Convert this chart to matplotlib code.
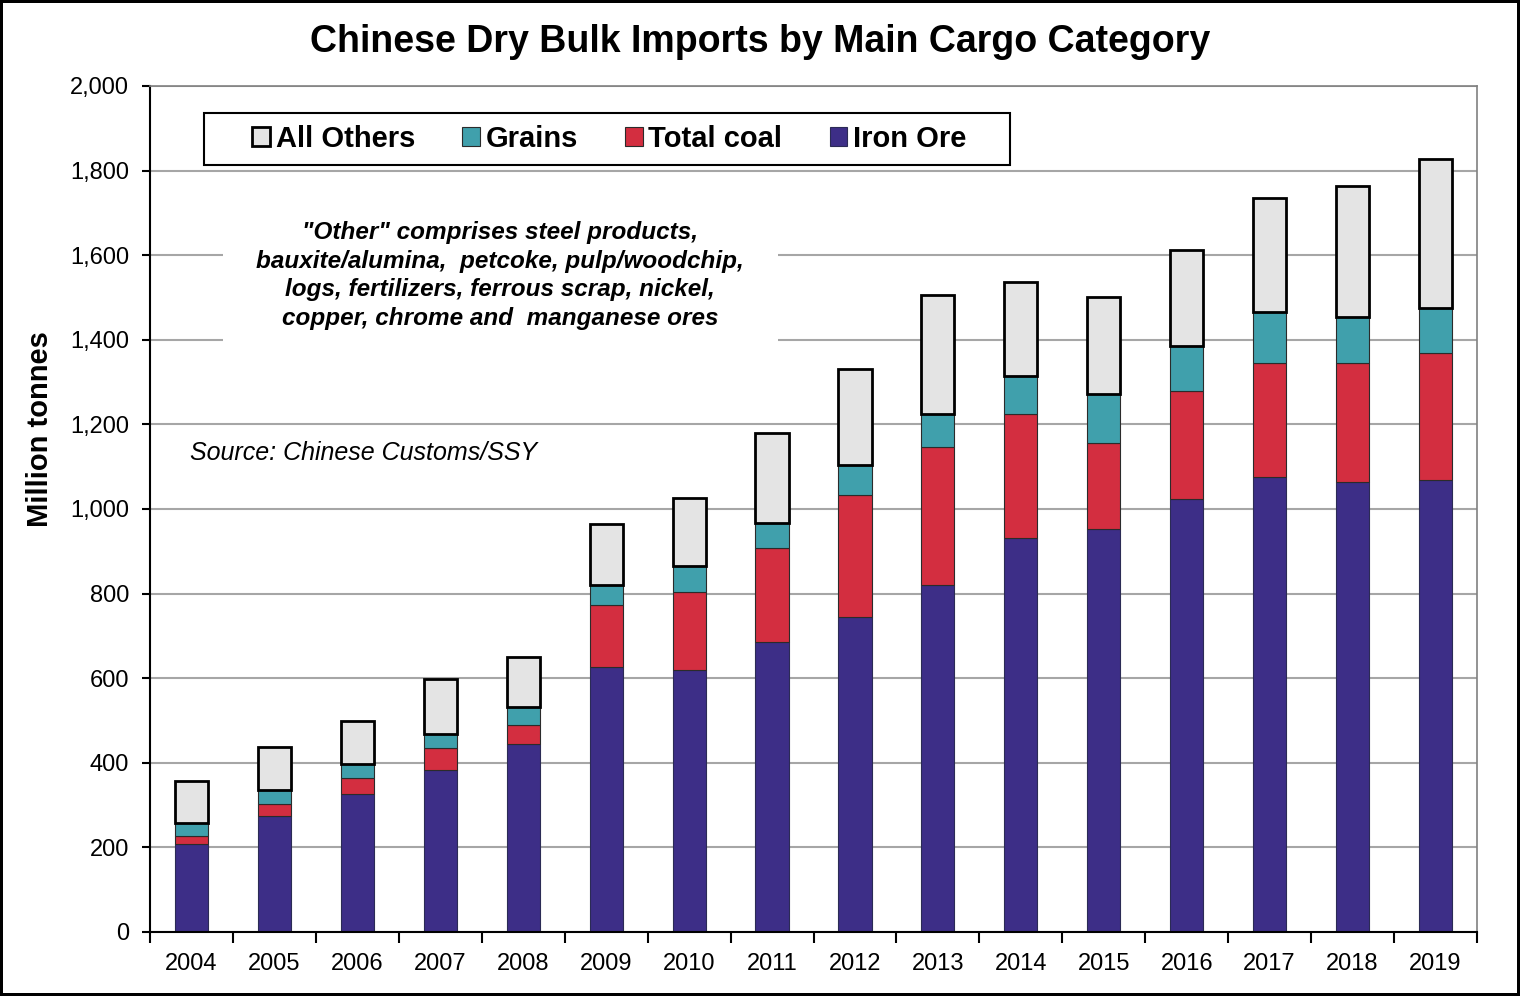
import matplotlib
matplotlib.use("Agg")
from matplotlib import pyplot as plt
from matplotlib.patches import Rectangle
import numpy as np

years = ["2004", "2005", "2006", "2007", "2008", "2009", "2010", "2011",
         "2012", "2013", "2014", "2015", "2016", "2017", "2018", "2019"]
iron_ore = [208, 274, 326, 383, 444, 626, 619, 686, 745, 820, 931, 953, 1024, 1076, 1064, 1069]
total_coal = [19, 29, 38, 52, 45, 147, 185, 222, 288, 327, 294, 203, 255, 269, 281, 300]
grains = [31, 33, 33, 33, 43, 47, 61, 59, 71, 78, 89, 116, 106, 121, 109, 106]
all_others = [99, 101, 102, 130, 118, 145, 161, 213, 227, 281, 223, 229, 227, 269, 310, 352]

plt.rcParams['font.family'] = ['Liberation Sans', 'DejaVu Sans']

fig = plt.figure(figsize=(15.2, 9.96), dpi=100, edgecolor='black', linewidth=3)
ax = fig.add_axes([0.0987, 0.0643, 0.873, 0.8494])

x = np.arange(len(years))
w = 0.4
iron = np.array(iron_ore)
coal = np.array(total_coal)
grn = np.array(grains)
oth = np.array(all_others)

b1 = ax.bar(x, iron, w, color='#3D2E87', edgecolor='#2b2b55', linewidth=0.8, label='Iron Ore', zorder=2)
b2 = ax.bar(x, coal, w, bottom=iron, color='#D32E40', edgecolor='#2b2b2b', linewidth=0.8, label='Total coal', zorder=2)
b3 = ax.bar(x, grn, w, bottom=iron + coal, color='#40A0AC', edgecolor='#2b2b2b', linewidth=0.8, label='Grains', zorder=2)
b4 = ax.bar(x, oth, w, bottom=iron + coal + grn, color='#E4E4E4', edgecolor='black', linewidth=2, label='All Others', zorder=2)

ax.set_xlim(-0.5, len(years) - 0.5)
ax.set_ylim(0, 2000)
ax.set_yticks(range(0, 2001, 200))
ax.set_yticklabels([f"{v:,}" for v in range(0, 2001, 200)])
ax.yaxis.grid(True, color='#A6A6A6', linewidth=1.5)
ax.set_axisbelow(True)

ax.set_xticks(np.arange(-0.5, len(years), 1.0))
ax.set_xticklabels([])
ax.set_xticks(x, minor=True)
ax.set_xticklabels(years, minor=True)
ax.tick_params(axis='x', which='major', direction='out', length=8, width=1.5)
ax.tick_params(axis='x', which='minor', length=0, pad=15, labelsize=17)
ax.tick_params(axis='y', direction='out', length=6, width=1.5, pad=9, labelsize=17)

for s in ['left', 'bottom']:
    ax.spines[s].set_color('black')
    ax.spines[s].set_linewidth(1.5)
for s in ['top', 'right']:
    ax.spines[s].set_color('#808080')
    ax.spines[s].set_linewidth(1.2)

ax.set_ylabel("Million tonnes", fontsize=21, fontweight='bold')
ax.yaxis.set_label_coords(-0.072, 0.595)

fig.text(0.5, 0.958, "Chinese Dry Bulk Imports by Main Cargo Category",
         ha='center', va='center', fontsize=27, fontweight='bold')

# legend box
ax.add_patch(Rectangle((0.041, 0.907), 0.607, 0.061, transform=ax.transAxes,
                       facecolor='white', edgecolor='black', linewidth=1.5, zorder=4))
leg = ax.legend([b4, b3, b2, b1], ['All Others', 'Grains', 'Total coal', 'Iron Ore'],
                ncol=4, frameon=False, loc='center left', bbox_to_anchor=(0.077, 0.9375),
                prop={'size': 21, 'weight': 'bold'}, handlelength=0.6, handleheight=0.6,
                handletextpad=0.2, columnspacing=1.62, borderpad=0, borderaxespad=0)
leg.set_zorder(5)

ax.text(0.264, 0.776, '"Other" comprises steel products,\nbauxite/alumina,  petcoke, pulp/woodchip,\n'
        'logs, fertilizers, ferrous scrap, nickel,\ncopper, chrome and  manganese ores',
        transform=ax.transAxes, ha='center', va='center', fontsize=17.5,
        fontweight='bold', fontstyle='italic', linespacing=1.32, zorder=4,
        bbox=dict(facecolor='white', edgecolor='none', pad=24))

ax.text(0.030, 0.566, "Source: Chinese Customs/SSY", transform=ax.transAxes,
        ha='left', va='center', fontsize=18, fontstyle='italic')

fig.savefig("out.png", dpi=100)
